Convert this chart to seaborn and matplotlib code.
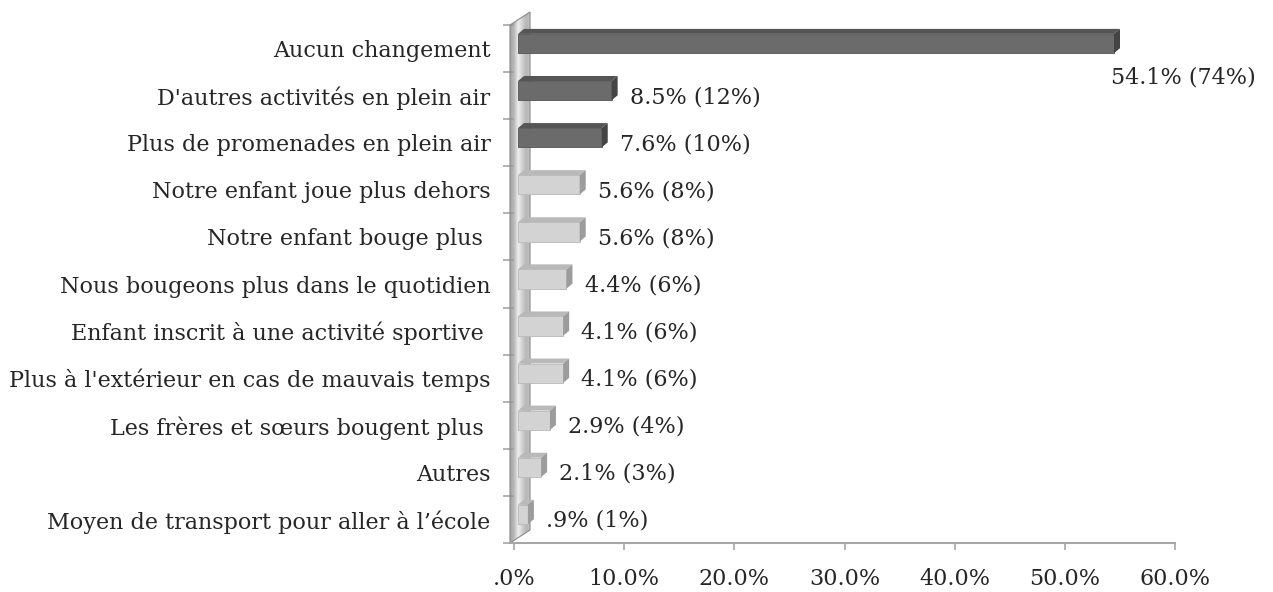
import matplotlib
matplotlib.use("Agg")
import matplotlib.pyplot as plt
from matplotlib.patches import Polygon
import numpy as np
import pandas as pd
import seaborn as sns

# --- data ---
categories = [
    "Aucun changement",
    "D'autres activités en plein air",
    "Plus de promenades en plein air",
    "Notre enfant joue plus dehors",
    "Notre enfant bouge plus ",
    "Nous bougeons plus dans le quotidien",
    "Enfant inscrit à une activité sportive ",
    "Plus à l'extérieur en cas de mauvais temps",
    "Les frères et sœurs bougent plus ",
    "Autres",
    "Moyen de transport pour aller à l’école",
]
percent = [54.1, 8.5, 7.6, 5.6, 5.6, 4.4, 4.1, 4.1, 2.9, 2.1, 0.9]
value_labels = [
    "54.1% (74%)", "8.5% (12%)", "7.6% (10%)", "5.6% (8%)", "5.6% (8%)",
    "4.4% (6%)", "4.1% (6%)", "4.1% (6%)", "2.9% (4%)", "2.1% (3%)", ".9% (1%)",
]
highlighted = [True, True, True, False, False, False, False, False, False, False, False]
x_ticks = [0, 10, 20, 30, 40, 50, 60]
x_tick_labels = [".0%", "10.0%", "20.0%", "30.0%", "40.0%", "50.0%", "60.0%"]

df = pd.DataFrame({"category": categories, "percent": percent})

# --- style ---
sns.set_style("white")
plt.rcParams["font.family"] = ["DejaVu Serif"]
FS = 16
DARK = {"front": "#6b6b6b", "top": "#555555", "side": "#444444"}
LIGHT = {"front": "#d3d3d3", "top": "#b9b9b9", "side": "#9c9c9c"}
AXIS_GREY = "#a6a6a6"

W, H = 1273, 592
fig = plt.figure(figsize=(W / 100, H / 100), dpi=100)
ax = fig.add_axes([514 / W, 1 - 543 / H, (1175 - 514) / W, (543 - 25) / H])

palette = [DARK["front"] if h else LIGHT["front"] for h in highlighted]
sns.barplot(data=df, y="category", x="percent", hue="category", palette=palette,
            legend=False, orient="h", width=0.41, saturation=1, ax=ax, zorder=3)

ax.set_xlim(0, 60)
ax.set_ylim(len(categories) - 0.5, -0.5)

# pixel -> data conversion for the fake 3D depth
px_x = 60 / (1175 - 514)
px_y = len(categories) / (543 - 25)
depth_x, depth_y = 6 * px_x, 5 * px_y
shift_x, shift_y = 4 * px_x, 5 * px_y

# back wall (gradient slab)
wall_cols = ["#8a8a8a", "#a8a8a8", "#e9e9e9", "#c4c4c4", "#a2a2a2", "#b4b4b4"]
wx0, wx1 = -4 * px_x, 16 * px_x
wdy = 13 * px_y
y_bot, y_top = len(categories) - 0.5, -0.5
n_strip = 30
for k in range(n_strip):
    t0, t1 = k / n_strip, (k + 1) / n_strip
    xa, xb = wx0 + (wx1 - wx0) * t0, wx0 + (wx1 - wx0) * t1
    c = np.interp(t0 * (len(wall_cols) - 1), np.arange(len(wall_cols)),
                  [int(h[1:3], 16) for h in wall_cols]) / 255
    ax.add_patch(Polygon([(xa, y_bot - wdy * t0), (xa, y_top - wdy * t0),
                          (xb, y_top - wdy * t1), (xb, y_bot - wdy * t1)],
                         closed=True, facecolor=(c, c, c), edgecolor="none",
                         clip_on=False, zorder=1))
ax.add_patch(Polygon([(wx0, y_bot), (wx0, y_top), (wx1, y_top - wdy), (wx1, y_bot - wdy)],
                     closed=True, facecolor="none", edgecolor="#8a8a8a", lw=0.8,
                     clip_on=False, zorder=2))

# 3D faces for every bar
for patch, hl in zip(ax.patches[:len(categories)], highlighted):
    cols = DARK if hl else LIGHT
    patch.set_x(patch.get_x() + shift_x)
    patch.set_y(patch.get_y() - shift_y)
    patch.set_edgecolor(cols["top"])
    patch.set_linewidth(0.6)
    x0, y0 = patch.get_x(), patch.get_y()
    w, h = patch.get_width(), patch.get_height()
    x1 = x0 + w
    top = Polygon([(x0, y0), (x1, y0), (x1 + depth_x, y0 - depth_y), (x0 + depth_x, y0 - depth_y)],
                  closed=True, facecolor=cols["top"], edgecolor="none", zorder=3)
    side = Polygon([(x1, y0), (x1, y0 + h), (x1 + depth_x, y0 + h - depth_y), (x1 + depth_x, y0 - depth_y)],
                   closed=True, facecolor=cols["side"], edgecolor="none", zorder=3)
    ax.add_patch(top)
    ax.add_patch(side)

# value labels
for i, (v, lab) in enumerate(zip(percent, value_labels)):
    if i == 0:
        ax.annotate(lab, xy=(v, i), xytext=(1, -21), textcoords="offset points",
                    ha="left", va="center", fontsize=FS, annotation_clip=False)
    else:
        ax.annotate(lab, xy=(v, i), xytext=(16, -1), textcoords="offset points",
                    ha="left", va="center", fontsize=FS, annotation_clip=False)

# axes cosmetics
for s in ["top", "right", "left"]:
    ax.spines[s].set_visible(False)
ax.spines["bottom"].set_color(AXIS_GREY)
ax.spines["bottom"].set_linewidth(1.5)
ax.spines["bottom"].set_bounds(-4 * px_x, 60)

ax.set_xticks(x_ticks)
ax.set_xticklabels(x_tick_labels, fontsize=FS)
ax.tick_params(axis="x", direction="out", length=5, width=1.2, color=AXIS_GREY, pad=13, bottom=True)

ax.set_yticks(range(len(categories)))
ax.set_yticklabels(categories, fontsize=FS)
ax.set_yticks(np.arange(-0.5, len(categories), 1), minor=True)
ax.tick_params(axis="y", which="major", length=0, pad=17)
ax.tick_params(axis="y", which="minor", direction="out", length=8, width=1.2, color=AXIS_GREY, left=True)

ax.set_xlabel("")
ax.set_ylabel("")
ax.grid(False)

fig.savefig("out.png", dpi=100)
